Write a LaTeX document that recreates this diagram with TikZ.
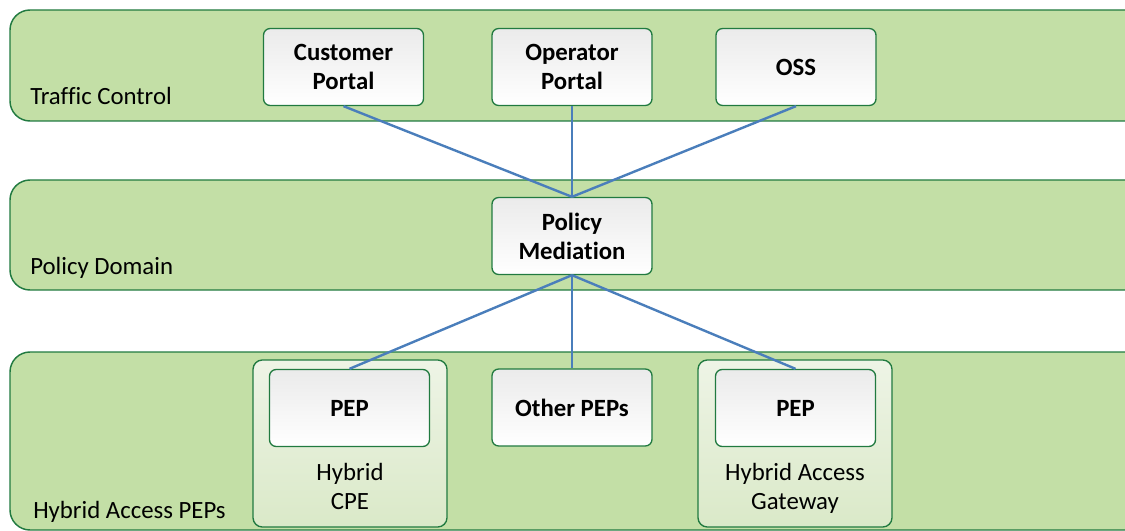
\documentclass[tikz,border=0pt]{standalone}
\usepackage{fontspec}
\setmainfont[Ligatures=NoCommon]{Carlito}
\definecolor{bandfill}{HTML}{C3DFA6}
\definecolor{edgegreen}{HTML}{217A40}
\definecolor{linkblue}{HTML}{4A7EBB}
\definecolor{holdtop}{HTML}{EEF4E6}
\definecolor{holdbot}{HTML}{DAE9C8}
\begin{document}
\begin{tikzpicture}[x=0.75pt,y=-0.75pt,
  band/.style={draw=edgegreen, line width=1.1pt, fill=bandfill, rounded corners=15pt},
  holder/.style={draw=edgegreen, line width=1pt, top color=holdtop, bottom color=holdbot,
    rounded corners=7pt, minimum width=145.5pt, minimum height=125.25pt, inner sep=0pt},
  box/.style={draw=edgegreen, line width=1pt, top color=white!92!black, bottom color=white,
    rounded corners=5pt, minimum width=120pt, minimum height=57.75pt, inner sep=0pt,
    align=center, font=\fontsize{18.6}{21.75}\selectfont\bfseries},
  layerlabel/.style={anchor=base west, inner sep=0pt, font=\fontsize{18.6}{21.75}\selectfont},
  sublabel/.style={anchor=base, inner sep=0pt, align=center, font=\fontsize{18.6}{21.75}\selectfont},
  link/.style={draw=linkblue, line width=1.8pt}]
\useasboundingbox (0,0) rectangle (1125,531);
\clip (0,0) rectangle (1125,531);

% layers
\draw[band] (10,10) rectangle (1145,121);
\draw[band] (10,180) rectangle (1145,290);
\draw[band] (10,352) rectangle (1145,530);
\node[layerlabel] (ltc) at (30,105) {Traffic Control};
\node[layerlabel] (lpd) at (30,275) {Policy Domain};
\node[layerlabel] (lha) at (33,518) {Hybrid Access PEPs};

% device containers
\node[holder] (cpe) at (350,443.5) {};
\node[holder] (hag) at (795,443.5) {};
\node[sublabel] (cpet) at (350,509) {Hybrid\\CPE};
\node[sublabel] (hagt) at (795,509) {Hybrid Access\\Gateway};

% components
\node[box] (cp)  at (343.5,67) {Customer\\Portal};
\node[box] (op)  at (572,67)   {Operator\\Portal};
\node[box] (oss) at (796,67)   {OSS};
\node[box] (pm)  at (572,236)  {Policy\\Mediation};
\node[box] (pepl) at (349.5,408) {PEP};
\node[box] (oth)  at (572,407.5) {Other PEPs};
\node[box] (pepr) at (795.5,408) {PEP};

% links
\draw[link] (pm.north) -- (cp.south);
\draw[link] (pm.north) -- (op.south);
\draw[link] (pm.north) -- (oss.south);
\draw[link] (pm.south) -- (pepl.north);
\draw[link] (pm.south) -- (oth.north);
\draw[link] (pm.south) -- (pepr.north);
\end{tikzpicture}
\end{document}
